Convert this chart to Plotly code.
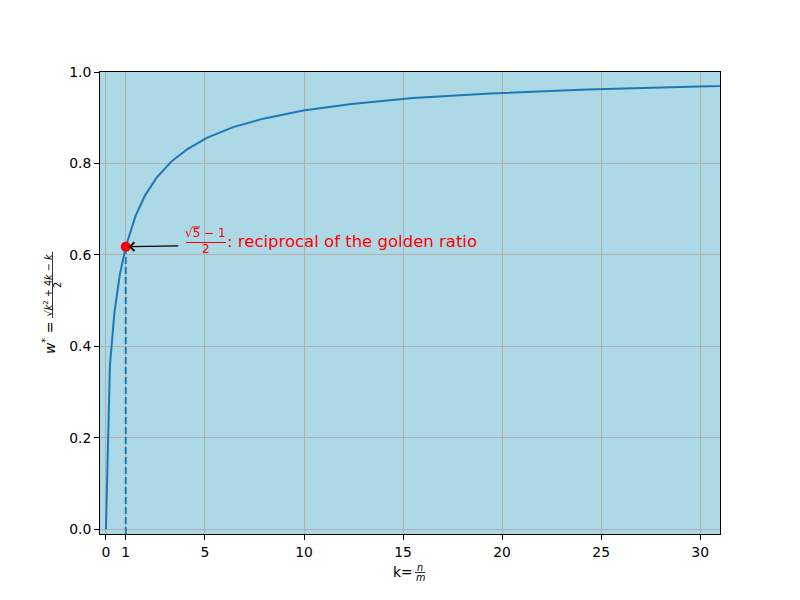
import plotly.graph_objects as go

# data
k_vals = [0, 0.2, 0.43, 0.7, 1.0, 1.5, 1.97, 2.56, 3.32, 4.1, 5.09, 6.42, 7.94,
          9.96, 12.4, 15.5, 19.4, 24.3, 30.4, 38.0]
w_vals = [0.0, 0.358, 0.475, 0.557, 0.618, 0.686, 0.730, 0.769, 0.805, 0.831,
          0.856, 0.8795, 0.898, 0.916, 0.930, 0.943, 0.953, 0.962, 0.969, 0.975]
golden_k = [1.0]
golden_w = [0.618]
dash_k = [1.0, 1.0]
dash_w = [-0.01, 0.618]
x_ticks = [0, 1, 5, 10, 15, 20, 25, 30]
y_ticks = [0.0, 0.2, 0.4, 0.6, 0.8, 1.0]

FONT = "DejaVu Sans"
BLUE = "#1f77b4"

# pixel -> paper helpers (plot area 100..720 x 72..534)
def px(xp):
    return (xp - 100) / 620.0

def py(yp):
    return (534 - yp) / 462.0

fig = go.Figure()
fig.add_trace(go.Scatter(x=k_vals, y=w_vals, mode="lines",
                         line=dict(color=BLUE, width=2), showlegend=False))
fig.add_trace(go.Scatter(x=dash_k, y=dash_w, mode="lines",
                         line=dict(color=BLUE, width=2, dash="7px,3px"),
                         showlegend=False))
fig.add_trace(go.Scatter(x=golden_k, y=golden_w, mode="markers",
                         marker=dict(color="red", size=10), showlegend=False))

ann = []
# arrow
ann.append(dict(x=golden_k[0], y=golden_w[0], xref="x", yref="y", text=" ",
                showarrow=True, ax=56, ay=-1, arrowhead=4, arrowsize=1.4,
                arrowwidth=1.2, arrowcolor="black", standoff=3))
# golden ratio fraction
ann.append(dict(x=px(205), y=py(233), xref="paper", yref="paper",
                text="√5 − 1", showarrow=False, xanchor="center", yanchor="middle",
                font=dict(family=FONT, size=12, color="red")))
ann.append(dict(x=px(205.5), y=py(248.5), xref="paper", yref="paper",
                text="2", showarrow=False, xanchor="center", yanchor="middle",
                font=dict(family=FONT, size=12, color="red")))
ann.append(dict(x=px(225), y=py(241), xref="paper", yref="paper",
                text=": reciprocal of the golden ratio", showarrow=False,
                xanchor="left", yanchor="middle",
                font=dict(family=FONT, size=16.5, color="red")))
# x label
ann.append(dict(x=px(415), y=py(572), xref="paper", yref="paper",
                text="k=", showarrow=False, xanchor="right", yanchor="middle",
                font=dict(family=FONT, size=13.9, color="black")))
ann.append(dict(x=px(420), y=py(567), xref="paper", yref="paper",
                text="<i>n</i>", showarrow=False, xanchor="center", yanchor="middle",
                font=dict(family=FONT, size=9.7, color="black")))
ann.append(dict(x=px(420), y=py(577.5), xref="paper", yref="paper",
                text="<i>m</i>", showarrow=False, xanchor="center", yanchor="middle",
                font=dict(family=FONT, size=9.7, color="black")))
# y label
ann.append(dict(x=px(49), y=py(338), xref="paper", yref="paper",
                text="<i>w</i><sup>*</sup> =", showarrow=False, textangle=-90,
                xanchor="center", yanchor="middle",
                font=dict(family=FONT, size=13.9, color="black")))
ann.append(dict(x=px(47.5), y=py(285), xref="paper", yref="paper",
                text="√<i>k</i><sup>2</sup> + 4<i>k</i> − <i>k</i>", showarrow=False,
                textangle=-90, xanchor="center", yanchor="middle",
                font=dict(family=FONT, size=9.7, color="black")))
ann.append(dict(x=px(57), y=py(285), xref="paper", yref="paper",
                text="2", showarrow=False, textangle=-90,
                xanchor="center", yanchor="middle",
                font=dict(family=FONT, size=9.7, color="black")))

shapes = [
    dict(type="line", xref="paper", yref="paper", x0=px(186), x1=px(226),
         y0=py(242.5), y1=py(242.5), line=dict(color="red", width=1)),
    dict(type="line", xref="paper", yref="paper", x0=px(192), x1=px(200),
         y0=py(227), y1=py(227), line=dict(color="red", width=1)),
    dict(type="line", xref="paper", yref="paper", x0=px(415), x1=px(425),
         y0=py(572.5), y1=py(572.5), line=dict(color="black", width=0.8)),
    dict(type="line", xref="paper", yref="paper", x0=px(52.5), x1=px(52.5),
         y0=py(252), y1=py(318), line=dict(color="black", width=0.8)),
]

fig.update_layout(
    width=800, height=600,
    margin=dict(l=100, r=80, t=72, b=66),
    paper_bgcolor="white", plot_bgcolor="#add8e6",
    font=dict(family=FONT, size=13.9, color="black"),
    annotations=ann, shapes=shapes,
)
axis_common = dict(showline=True, linecolor="black", linewidth=1, mirror=True,
                   ticks="outside", ticklen=5, tickwidth=1, tickcolor="black",
                   showgrid=True, gridcolor="#b0b0b0", gridwidth=1, zeroline=False,
                   tickfont=dict(family=FONT, size=13.9, color="black"))
fig.update_xaxes(range=[-0.3, 31], tickvals=x_ticks, **axis_common)
fig.update_yaxes(range=[-0.01, 1.0], tickvals=y_ticks, tickformat=".1f", **axis_common)

fig.write_html("out.html", config={"displayModeBar": False},
               post_script="document.body.style.margin='0';document.body.style.padding='0';")
